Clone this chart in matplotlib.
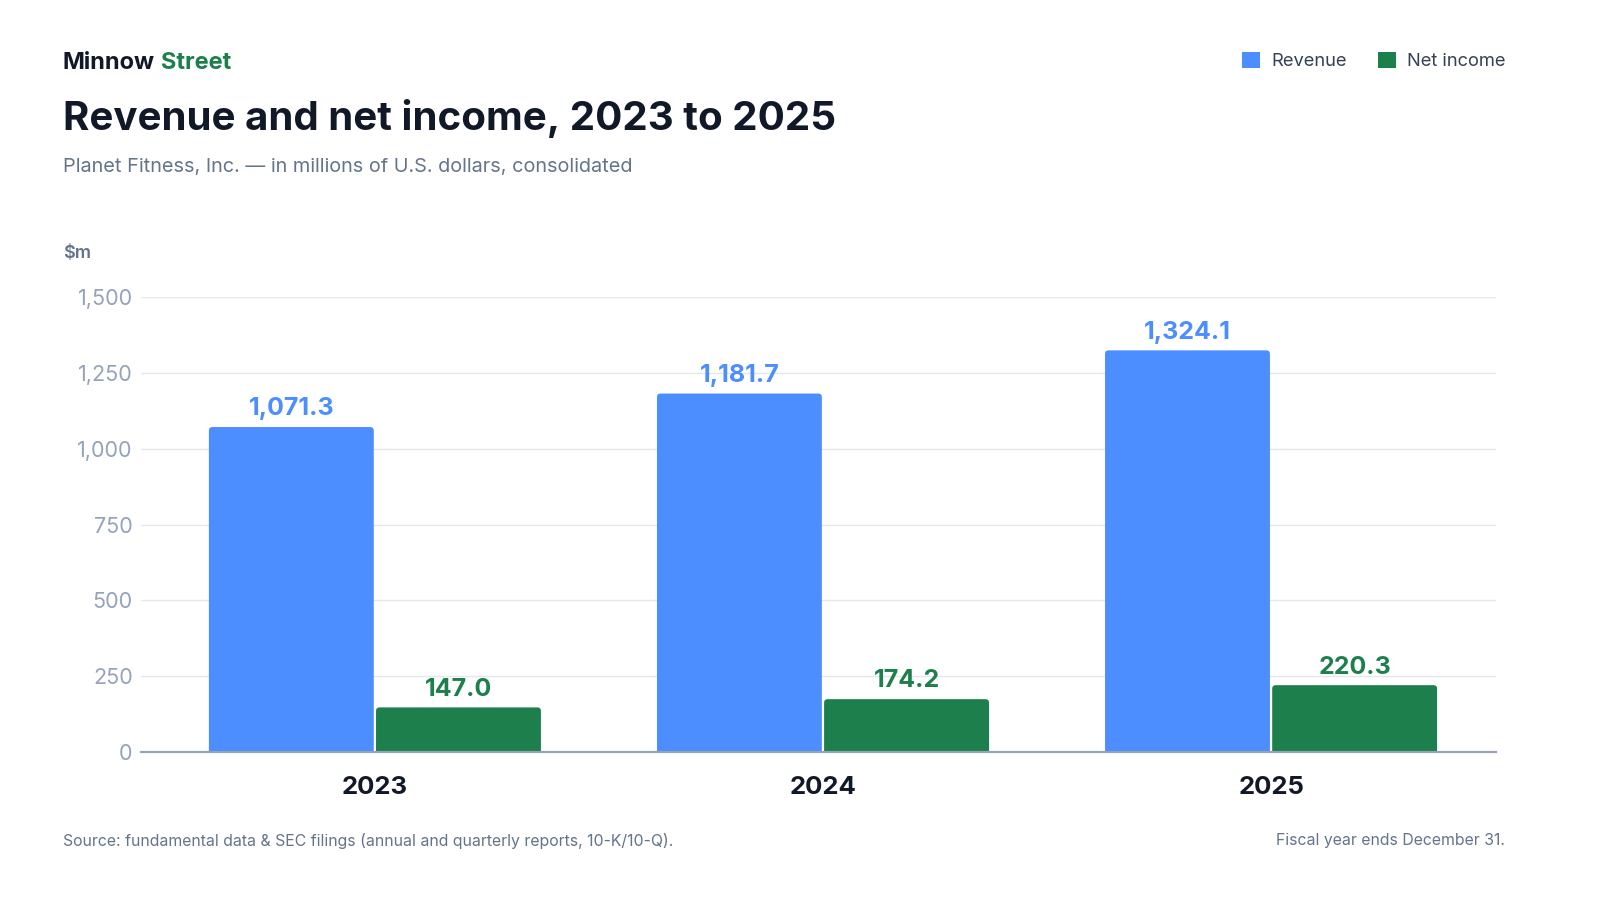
import matplotlib
matplotlib.use("Agg")

import matplotlib.pyplot as plt
from matplotlib.patches import Patch, FancyBboxPatch
import numpy as np

# Daten
years = ["2023", "2024", "2025"]
revenue = [1071.3, 1181.7, 1324.1]
net_income = [147.0, 174.2, 220.3]
y_ticks = [0, 250, 500, 750, 1000, 1250, 1500]

BLUE = "#4c8dff"
GREEN = "#1c7f4c"
DARK = "#111827"
SLATE = "#64748b"
TICK = "#94a3b8"

plt.rcParams["font.family"] = ["Inter", "DejaVu Sans"]

W, H = 1600, 900
fig = plt.figure(figsize=(16, 9), dpi=100)
fig.patch.set_facecolor("white")

# Achsen in Pixelkoordinaten
left, right, top, bottom = 141, 1496, 297, 752
ax = fig.add_axes([left / W, 1 - bottom / H, (right - left) / W, (bottom - top) / H])

x = np.arange(len(years))
width = 0.368
off = 0.1865

ax.set_xlim(-0.522, 2.502)
ax.set_ylim(0, 1500)

# Balken (mit leicht abgerundeten Ecken oben)
aspect = (1500 / (bottom - top)) / (3.024 / (right - left))


def rounded_bars(xs, vals, color):
    bars = ax.bar(xs, vals, width, color=color, zorder=3)
    for b in bars:
        b.set_visible(False)
        p = FancyBboxPatch((b.get_x(), -30), b.get_width(), b.get_height() + 30,
                           boxstyle="round,pad=0,rounding_size=0.008",
                           mutation_aspect=aspect, facecolor=color, edgecolor="none",
                           zorder=3, clip_on=True)
        ax.add_patch(p)
    return bars


bars_rev = rounded_bars(x - off, revenue, BLUE)
bars_net = rounded_bars(x + off, net_income, GREEN)

for b, v in zip(bars_rev, revenue):
    ax.text(b.get_x() + b.get_width() / 2, v + 22, f"{v:,.1f}", ha="center", va="bottom",
            fontsize=18, fontweight="bold", color=BLUE)
for b, v in zip(bars_net, net_income):
    ax.text(b.get_x() + b.get_width() / 2, v + 22, f"{v:,.1f}", ha="center", va="bottom",
            fontsize=18, fontweight="bold", color=GREEN)

ax.set_yticks(y_ticks)
ax.set_yticklabels([f"{t:,}" for t in y_ticks])
ax.set_xticks(x)
ax.set_xticklabels(years)

ax.tick_params(axis="y", length=0, pad=6, labelsize=15.5, labelcolor=TICK)
ax.tick_params(axis="x", length=0, pad=17, labelsize=18.5, labelcolor=DARK)
for lbl in ax.get_xticklabels():
    lbl.set_fontweight("bold")

ax.grid(axis="y", color="#e5e7eb", linewidth=1, zorder=0)
ax.set_axisbelow(True)
for s in ["top", "right", "left"]:
    ax.spines[s].set_visible(False)
ax.spines["bottom"].set_color(TICK)
ax.spines["bottom"].set_linewidth(1.6)
ax.spines["bottom"].set_zorder(4)

# Kopfzeile
fig.text(63 / W, 1 - 63 / H, "Minnow", fontsize=17, fontweight="bold", color=DARK, va="center")
fig.text(161 / W, 1 - 63 / H, "Street", fontsize=17, fontweight="bold", color=GREEN, va="center")
fig.text(63 / W, 1 - 119 / H, "Revenue and net income, 2023 to 2025", fontsize=29,
         fontweight="bold", color=DARK, va="center")
fig.text(63 / W, 1 - 167 / H, "Planet Fitness, Inc. \u2014 in millions of U.S. dollars, consolidated",
         fontsize=14.3, color=SLATE, va="center")
fig.text(63 / W, 1 - 254 / H, "$m", fontsize=13, fontweight="semibold", color=SLATE, va="center")

# Legende
handles = [Patch(facecolor=BLUE, label="Revenue"), Patch(facecolor=GREEN, label="Net income")]
leg = fig.legend(handles=handles, loc="center right", bbox_to_anchor=(1522 / W, 1 - 61 / H),
                 ncol=2, frameon=False, handlelength=1.0, handleheight=1.0,
                 handletextpad=0.6, columnspacing=1.7, fontsize=13.2)
for t in leg.get_texts():
    t.set_color("#334155")

# Fusszeile
fig.text(63 / W, 1 - 841 / H,
         "Source: fundamental data & SEC filings (annual and quarterly reports, 10-K/10-Q).",
         fontsize=11.4, color=SLATE, va="center")
fig.text(1505 / W, 1 - 841 / H, "Fiscal year ends December 31.", fontsize=11.4,
         color=SLATE, va="center", ha="right")

plt.savefig("out.png", dpi=100, facecolor="white")
plt.close()
